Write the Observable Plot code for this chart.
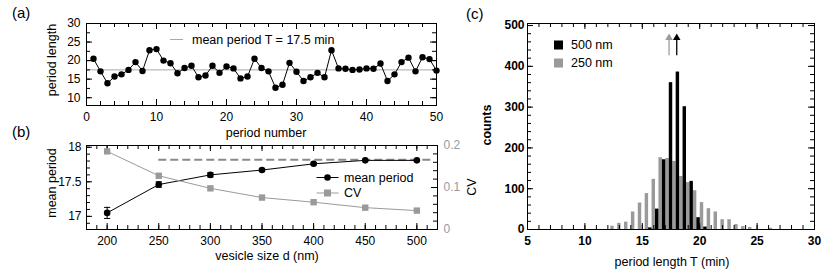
<!DOCTYPE html>
<html><head><meta charset="utf-8">
<script src="https://cdn.jsdelivr.net/npm/d3@7"></script>
<script src="https://cdn.jsdelivr.net/npm/@observablehq/plot@0.6"></script>
<style>
html,body{margin:0;padding:0;background:#fff;}
#wrap{position:relative;width:830px;height:277px;font-family:"Liberation Sans",Arial,sans-serif;overflow:hidden;}
#wrap svg{position:absolute;}
</style></head><body><div id="wrap"></div>
<script>
// ---------- Panel (a) data ----------
const periodNumber = [1,2,3,4,5,6,7,8,9,10,11,12,13,14,15,16,17,18,19,20,21,22,23,24,25,26,27,28,29,30,31,32,33,34,35,36,37,38,39,40,41,42,43,44,45,46,47,48,49,50];
const periodLength = [20.5,17.1,13.9,15.7,16.3,17.5,19.6,17.2,22.8,23.1,20.0,19.3,16.6,18.0,18.6,15.5,16.0,18.6,16.7,18.4,17.9,15.2,15.7,20.5,18.0,17.1,12.7,13.5,19.4,17.0,14.5,15.5,16.7,15.5,22.8,17.9,17.8,17.5,17.6,17.9,17.8,19.2,14.5,16.3,19.6,20.8,17.1,20.9,20.4,17.3];
const meanPeriodT = 17.5;
const aXTicks = [0,10,20,30,40,50];
const aYTicks = [10,15,20,25,30];

// ---------- Panel (b) data ----------
const vesicleSize = [200,250,300,350,400,450,500];
const meanPeriod = [17.05,17.46,17.60,17.67,17.76,17.81,17.81];
const meanPeriodErr = [0.08,0.04,0.03,0.02,0.015,0.01,0.01];
const cvValues = [0.186,0.128,0.098,0.076,0.065,0.052,0.045];
const asymptoteLevel = [17.82];
const asymptoteRange = [250, 515];
const bXTicks = [200,250,300,350,400,450,500];
const bYTicks = [17,17.5,18];
const cvTicks = [0,0.1,0.2];

// ---------- Panel (c) data ----------
const binCenters = [12.55,13.15,13.75,14.35,14.95,15.55,16.15,16.75,17.35,17.95,18.55,19.15,19.75,20.35,20.95,21.55,22.15,22.75,23.35,23.95,24.55,25.15,25.75,26.35];
const counts250 = [8,15,18,43,65,88,123,176,174,167,130,115,95,66,51,43,24,24,12,7,5,0,0,3];
const counts500 = [0,0,0,0,0,4,50,171,360,386,301,118,29,6,0,0,0,0,0,0,0,0,0,0];
const meanT = [17.33, 18.0];
const arrowSeries = ["250 nm", "500 nm"];
const arrowCounts = [426, 466, 470];
const cXTicks = [5,10,15,20,25,30];
const cYTicks = [0,100,200,300,400,500];

const GRAY = "#9a9a9a";
const FONT = "'Liberation Sans', Arial, sans-serif";
const wrap = document.getElementById("wrap");

function place(svg, left, top, z) {
  svg.style.left = left + "px";
  svg.style.top = top + "px";
  svg.style.zIndex = z || 1;
  wrap.appendChild(svg);
}
// inward frame ticks
function ticksX(values, len, innerH, color = "#000") {
  return [
    Plot.tickX(values, {x: d => d, insetTop: innerH - len, stroke: color}),
    Plot.tickX(values, {x: d => d, insetBottom: innerH - len, stroke: color})
  ];
}
function ticksY(values, len, innerW, side, color = "#000") {
  const out = [];
  if (side !== "right") out.push(Plot.tickY(values, {y: d => d, insetRight: innerW - len, stroke: color}));
  if (side !== "left") out.push(Plot.tickY(values, {y: d => d, insetLeft: innerW - len, stroke: color}));
  return out;
}
const styleBase = {fontFamily: FONT, fontSize: "12px", background: "transparent", overflow: "visible", color: "#000"};

// ---------- Panel (a) ----------
{
  const W = 500, H = 140, mL = 86, mT = 23, mR = 64, mB = 35;
  const iw = W - mL - mR, ih = H - mT - mB;
  const data = periodNumber.map((n, i) => ({n, v: periodLength[i]}));
  const svg = Plot.plot({
    width: W, height: H, marginLeft: mL, marginTop: mT, marginRight: mR, marginBottom: mB,
    style: styleBase,
    x: {domain: [0, 50]},
    y: {domain: [7.9, 30]},
    marks: [
      Plot.ruleY([meanPeriodT], {stroke: "#a8a8a8", strokeWidth: 1}),
      Plot.line(data, {x: "n", y: "v", stroke: "#000", strokeWidth: 1}),
      Plot.dot(data, {x: "n", y: "v", r: 3.2, fill: "#000"}),
      ...ticksX(d3.range(0, 50.01, 2), 4, ih),
      ...ticksX(aXTicks, 6, ih),
      ...ticksY(d3.range(10, 30.01, 2.5), 4, iw),
      ...ticksY(aYTicks, 6, iw),
      Plot.frame({stroke: "#000"}),
      Plot.axisX(aXTicks, {tickSize: 0, tickPadding: 7, label: null, tickFormat: d => String(d)}),
      Plot.axisY(aYTicks, {tickSize: 0, tickPadding: 6, label: null, tickFormat: d => String(d)})
    ]
  });
  place(svg, 0, 0, 1);
}

// ---------- Panel (b) ----------
{
  const W = 500, H = 157, mL = 86, mT = 25, mR = 63, mB = 48;
  const iw = W - mL - mR, ih = H - mT - mB;
  const data = vesicleSize.map((s, i) => ({s, m: meanPeriod[i], e: meanPeriodErr[i], cv: cvValues[i]}));
  const main = Plot.plot({
    width: W, height: H, marginLeft: mL, marginTop: mT, marginRight: mR, marginBottom: mB,
    style: styleBase,
    x: {domain: [180, 520]},
    y: {domain: [16.81, 18.025]},
    marks: [
      Plot.ruleY(asymptoteLevel, {x1: asymptoteRange[0], x2: asymptoteRange[1], stroke: "#8a8a8a", strokeWidth: 2, strokeDasharray: "8,4"}),
      Plot.ruleX(data, {x: "s", y1: d => d.m - d.e, y2: d => d.m + d.e, stroke: "#000"}),
      Plot.link(data, {x1: d => d.s - 3, x2: d => d.s + 3, y1: d => d.m - d.e, y2: d => d.m - d.e, stroke: "#000"}),
      Plot.link(data, {x1: d => d.s - 3, x2: d => d.s + 3, y1: d => d.m + d.e, y2: d => d.m + d.e, stroke: "#000"}),
      Plot.line(data, {x: "s", y: "m", stroke: "#000", strokeWidth: 1}),
      Plot.dot(data, {x: "s", y: "m", r: 3.3, fill: "#000"}),
      ...ticksX(d3.range(180, 520.01, 10), 4, ih),
      ...ticksX(bXTicks, 6, ih),
      ...ticksY(d3.range(16.9, 18.01, 0.1), 4, iw, "left"),
      ...ticksY(bYTicks, 6, iw, "left"),
      Plot.frame({stroke: "#000"}),
      Plot.axisX(bXTicks, {tickSize: 0, tickPadding: 7, label: null, tickFormat: d => String(d)}),
      Plot.axisY(bYTicks, {tickSize: 0, tickPadding: 5, label: null, tickFormat: d => String(d)})
    ]
  });
  place(main, 0, 120, 1);
  const over = Plot.plot({
    width: W, height: H, marginLeft: mL, marginTop: mT, marginRight: mR, marginBottom: mB,
    style: styleBase,
    x: {domain: [180, 520], axis: null},
    y: {domain: [0, 0.2]},
    marks: [
      Plot.line(data, {x: "s", y: "cv", stroke: GRAY, strokeWidth: 1}),
      Plot.dot(data, {x: "s", y: "cv", symbol: "square", r: 3.6, fill: GRAY}),
      ...ticksY(d3.range(0, 0.2001, 0.02), 4, iw, "right"),
      ...ticksY(cvTicks, 6, iw, "right"),
      Plot.axisY(cvTicks, {anchor: "right", tickSize: 0, tickPadding: 6, label: null, color: GRAY, tickFormat: d => d === 0 ? "0" : String(d)})
    ]
  });
  place(over, 0, 120, 2);
}

// ---------- Panel (c) ----------
{
  const W = 370, H = 277, mL = 67, mT = 23, mR = 16, mB = 48;
  const iw = W - mL - mR, ih = H - mT - mB;
  const bins = binCenters.map((c, i) => ({c, g: counts250[i], b: counts500[i]}));
  const arrows = meanT.map((x, i) => ({x, s: arrowSeries[i]}));
  const svg = Plot.plot({
    width: W, height: H, marginLeft: mL, marginTop: mT, marginRight: mR, marginBottom: mB,
    style: styleBase,
    x: {domain: [5, 30]},
    y: {domain: [0, 505]},
    marks: [
      Plot.rectY(bins, {x1: d => d.c - 0.3, x2: d => d.c, y1: 0, y2: "g", fill: GRAY}),
      Plot.rectY(bins, {x1: d => d.c, x2: d => d.c + 0.3, y1: 0, y2: "b", fill: "#000"}),
      Plot.ruleX(arrows, {x: "x", y1: arrowCounts[0], y2: arrowCounts[1], stroke: d => d.s === "500 nm" ? "#000" : GRAY, strokeWidth: 1.3}),
      Plot.dot(arrows, {x: "x", y: arrowCounts[2], symbol: "triangle", r: 2.8, fill: d => d.s === "500 nm" ? "#000" : GRAY}),
      ...ticksX(d3.range(5, 30.01, 1), 4, ih),
      ...ticksX(cXTicks, 6, ih),
      ...ticksY(d3.range(0, 500.01, 20), 4, iw),
      ...ticksY(cYTicks, 6, iw),
      Plot.frame({stroke: "#000"}),
      Plot.axisX(cXTicks, {tickSize: 0, tickPadding: 7, label: null, fontWeight: "bold", tickFormat: d => String(d)}),
      Plot.axisY(cYTicks, {tickSize: 0, tickPadding: 3, label: null, fontWeight: "bold", tickFormat: d => String(d)})
    ]
  });
  place(svg, 460, 0, 1);
}

// ---------- Titles, legends (swatches) and panel letters ----------
{
  const ns = "http://www.w3.org/2000/svg";
  const svg = document.createElementNS(ns, "svg");
  svg.setAttribute("width", 830); svg.setAttribute("height", 277);
  svg.style.left = "0px"; svg.style.top = "0px"; svg.style.zIndex = 3;
  svg.style.fontFamily = FONT;
  const add = (tag, attrs, text) => {
    const el = document.createElementNS(ns, tag);
    for (const k in attrs) el.setAttribute(k, attrs[k]);
    if (text) el.textContent = text;
    svg.appendChild(el);
  };
  const title = (txt, x, y, rot, extra = {}) => add("text", Object.assign({
    x: 0, y: 0, "font-size": 12.5, "text-anchor": "middle", "dominant-baseline": "central",
    transform: `translate(${x},${y})` + (rot ? ` rotate(${rot})` : "")
  }, extra), txt);
  // axis titles
  title("period number", 266, 132.5, 0);
  title("period length", 52, 60, -90);
  title("vesicle size d (nm)", 267, 256, 0);
  title("mean period", 52, 183, -90);
  title("CV", 472, 187, -90);
  title("period length T (min)", 672, 262, 0);
  title("counts", 487, 125, -90, {"font-weight": "bold"});
  // (a) legend
  add("line", {x1: 170, x2: 183, y1: 39.5, y2: 39.5, stroke: "#a8a8a8"});
  add("text", {x: 192, y: 39.5, "font-size": 12.5, "dominant-baseline": "central"}, "mean period T = 17.5 min");
  // (b) legend
  add("line", {x1: 316.5, x2: 338.5, y1: 177.5, y2: 177.5, stroke: "#000"});
  add("circle", {cx: 327.5, cy: 177.5, r: 3.3, fill: "#000"});
  add("text", {x: 344, y: 177.5, "font-size": 12.5, "dominant-baseline": "central"}, "mean period");
  add("line", {x1: 316.5, x2: 338.5, y1: 193, y2: 193, stroke: GRAY});
  add("rect", {x: 324, y: 189.5, width: 7, height: 7, fill: GRAY});
  add("text", {x: 344, y: 193, "font-size": 12.5, "dominant-baseline": "central"}, "CV");
  // (c) legend
  add("rect", {x: 554, y: 40.5, width: 9, height: 9, fill: "#000"});
  add("text", {x: 571, y: 45, "font-size": 12.5, "dominant-baseline": "central"}, "500 nm");
  add("rect", {x: 554, y: 58.5, width: 9, height: 9, fill: GRAY});
  add("text", {x: 571, y: 63, "font-size": 12.5, "dominant-baseline": "central"}, "250 nm");
  // panel letters
  add("text", {x: 12, y: 12.5, "font-size": 15, "dominant-baseline": "central"}, "(a)");
  add("text", {x: 12, y: 131, "font-size": 15, "dominant-baseline": "central"}, "(b)");
  add("text", {x: 466, y: 13, "font-size": 15, "dominant-baseline": "central"}, "(c)");
  wrap.appendChild(svg);
}
</script>
</body></html>
